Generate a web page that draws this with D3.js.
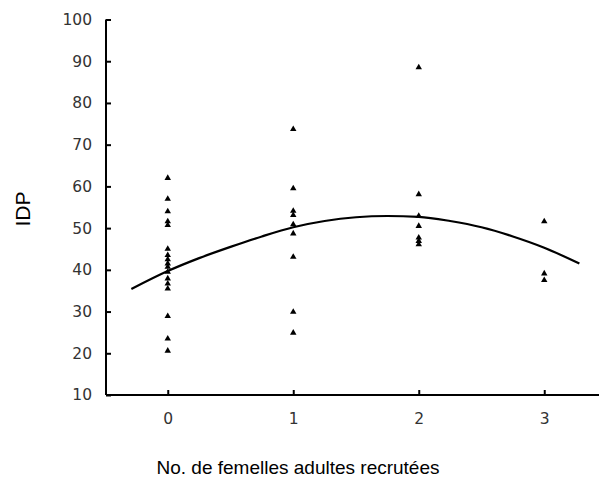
<!DOCTYPE html>
<html><head><meta charset="utf-8">
<script src="https://cdn.jsdelivr.net/npm/d3@7"></script>
<style>body{margin:0;background:#fff}svg{display:block}</style>
</head><body>
<svg id="c" width="599" height="480"></svg>
<script>
const xTicks = [0, 1, 2, 3];
const yTicks = [10, 20, 30, 40, 50, 60, 70, 80, 90, 100];
const groupX = [0, 1, 2, 3];
const idp0 = [62, 57, 54, 51.6, 50.7, 45, 43.5, 42.5, 41.5, 40.7, 39.5, 37.9, 36.7, 35.5, 28.9, 23.5, 20.6];
const idp1 = [73.7, 59.5, 54.1, 53.1, 50.9, 48.7, 43.1, 29.9, 24.9];
const idp2 = [88.5, 58.1, 52.9, 50.5, 47.7, 46.9, 46.1];
const idp3 = [51.6, 39.1, 37.5];
const fitX = [-0.29, 0, 0.25, 0.5, 0.75, 1, 1.25, 1.5, 1.75, 2, 2.25, 2.5, 2.75, 3, 3.28];
const fitY = [35.4, 39.7, 42.8, 45.5, 48.0, 50.2, 51.7, 52.6, 52.9, 52.7, 51.7, 50.2, 48.0, 45.3, 41.5];
const xTitle = "No. de femelles adultes recrutées";
const yTitle = "IDP";

const svg = d3.select("#c");
const x = d3.scaleLinear().domain([-0.5, 3.5]).range([105, 607]);
const y = d3.scaleLinear().domain([10, 100]).range([395, 19.5]);

const pts = [];
[idp0, idp1, idp2, idp3].forEach((arr, i) => arr.forEach(v => pts.push([groupX[i], v])));

// fitted curve
svg.append("path")
  .datum(fitX.map((d, i) => [d, fitY[i]]))
  .attr("fill", "none").attr("stroke", "#000").attr("stroke-width", 2.2)
  .attr("d", d3.line().x(d => x(d[0])).y(d => y(d[1])).curve(d3.curveMonotoneX));

// points
svg.append("g").selectAll("path").data(pts).join("path")
  .attr("transform", d => `translate(${x(d[0])},${y(d[1])})`)
  .attr("d", d3.symbol(d3.symbolTriangle, 18))
  .attr("fill", "#000");

// axes
const yAxis = svg.append("g").attr("transform", "translate(106,0)")
  .call(d3.axisRight(y).tickValues(yTicks).tickSize(5).tickFormat(d3.format("d")));
yAxis.select(".domain").attr("d", `M0,${y(100)}V${y(10)}`).attr("stroke-width", 2);
yAxis.selectAll(".tick line").attr("stroke-width", 2);
yAxis.selectAll(".tick text").attr("x", -14).attr("text-anchor", "end")
  .attr("font-family", "DejaVu Sans").attr("font-size", 15.5).attr("fill", "#333");

const xAxis = svg.append("g").attr("transform", "translate(0,395)")
  .call(d3.axisTop(x).tickValues(xTicks).tickSize(5).tickFormat(d3.format("d")));
xAxis.select(".domain").attr("d", `M106,0H607`).attr("stroke-width", 2);
xAxis.selectAll(".tick line").attr("stroke-width", 2);
xAxis.selectAll(".tick text").attr("y", 29).attr("dy", 0)
  .attr("font-family", "DejaVu Sans").attr("font-size", 15.5).attr("fill", "#333");

svg.append("text").attr("x", 298).attr("y", 474).attr("text-anchor", "middle")
  .attr("font-family", "Liberation Sans, Arial").attr("font-size", 19).attr("fill", "#000")
  .text(xTitle);
svg.append("text").attr("transform", "translate(30,209) rotate(-90)").attr("text-anchor", "middle")
  .attr("font-family", "Liberation Sans, Arial").attr("font-size", 21).attr("fill", "#000")
  .text(yTitle);
</script>
</body></html>
